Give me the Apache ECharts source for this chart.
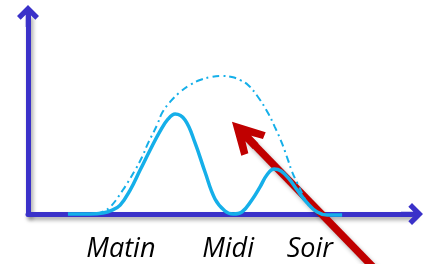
<!DOCTYPE html>
<html>
<head>
<meta charset="utf-8">
<script src="https://cdn.jsdelivr.net/npm/echarts@6/dist/echarts.min.js"></script>
<style>
  html, body { margin: 0; padding: 0; background: #fff; }
  #chart { width: 425px; height: 264px; }
</style>
</head>
<body>
<div id="chart"></div>
<script>
// time of day labels on the x axis (position on a 0..100 scale)
const labelNames = ['Matin', 'Midi', 'Soir'];
const labelPos = [24.2, 52.1, 73.4];

// solid curve: real activity, two humps
const realX = [10.4, 16.1, 19.5, 21.9, 24.0, 26.6, 29.2, 31.8, 34.4, 36.5, 38.3, 40.9, 43.5, 46.1, 48.7, 51.3, 53.4, 55.7, 58.3, 60.4, 62.2, 64.1, 65.9, 68.0, 70.1, 72.7, 75.3, 77.9, 81.8];
const realY = [0, 0, 0.5, 2.0, 4.5, 12.1, 22.2, 32.3, 41.9, 48.0, 50.5, 47.5, 35.9, 21.2, 7.6, 1.5, 0, 1.0, 7.1, 13.6, 19.7, 22.7, 21.7, 17.7, 12.1, 5.6, 1.0, -0.5, -0.5];

// dash-dot curve: expected / ideal, one wide hump
const idealX = [13.5, 17.4, 19.3, 21.4, 24.7, 27.9, 29.7, 31.3, 33.6, 34.9, 37.0, 39.6, 42.2, 44.8, 47.7, 50.5, 53.1, 55.2, 57.3, 59.9, 62.5, 64.3, 66.1, 67.7, 68.8, 70.1, 71.6, 72.7, 75.3, 77.9, 81.3];
const idealY = [0, 0, 1.0, 3.5, 12.1, 22.2, 28.8, 35.9, 44.9, 51.0, 56.6, 61.6, 65.2, 67.7, 69.2, 69.7, 69.2, 67.7, 65.2, 59.1, 51.0, 43.9, 35.9, 27.3, 21.2, 15.7, 9.6, 5.6, 1.0, -0.5, -0.5];

// red annotation arrow (tail -> head)
const arrowFrom = [91.1, -29.3];
const arrowTo = [56.2, 40.4];

const zip = (xs, ys) => xs.map((x, i) => [x, ys[i]]);

// chevron with a short stem, pointing up
const axisArrow = 'path://M12 0 L24 12 L20 16 L14.5 10.5 L14.5 24 L9.5 24 L9.5 10.5 L4 16 L0 12 Z';
const redArrow = 'path://M15 0 L30 30 L24 33 L18.5 22.7 L18.5 33 L11.5 33 L11.5 22.7 L6 33 L0 30 Z';

const blue = '#3A31C9';
const cyan = '#15AFE9';

const axisLine = {
  show: true,
  symbol: ['none', axisArrow],
  symbolSize: [23, 22],
  lineStyle: {
    color: blue,
    width: 5,
    shadowColor: 'rgba(0,0,0,0.35)',
    shadowBlur: 4,
    shadowOffsetX: 2,
    shadowOffsetY: 3
  }
};

const chart = echarts.init(document.getElementById('chart'));

chart.setOption({
  animation: false,
  grid: { left: 28, right: 13, top: 16, bottom: 50 },
  xAxis: {
    type: 'value',
    min: 0,
    max: 100,
    axisLine,
    axisTick: { show: false },
    splitLine: { show: false },
    axisLabel: {
      customValues: labelPos,
      formatter: (v) => labelNames[labelPos.indexOf(v)] || '',
      margin: 22,
      fontFamily: 'Open Sans',
      fontStyle: 'italic',
      fontSize: 27,
      color: '#000'
    }
  },
  yAxis: {
    type: 'value',
    min: 0,
    max: 100,
    axisLine,
    axisTick: { show: false },
    splitLine: { show: false },
    axisLabel: { show: false }
  },
  series: [
    {
      type: 'lines',
      coordinateSystem: 'cartesian2d',
      clip: false,
      z: 2,
      symbol: ['none', redArrow],
      symbolSize: [0, 34],
      lineStyle: {
        color: '#C00000',
        width: 7.5,
        opacity: 1,
        curveness: 0,
        shadowColor: 'rgba(0,0,0,0.3)',
        shadowBlur: 4,
        shadowOffsetX: 2,
        shadowOffsetY: 3
      },
      data: [{ coords: [arrowFrom, arrowTo] }]
    },
    {
      type: 'line',
      name: 'ideal',
      z: 3,
      clip: false,
      smooth: 0.4,
      showSymbol: false,
      lineStyle: { color: cyan, width: 2, type: [7, 4, 2, 4] },
      data: zip(idealX, idealY)
    },
    {
      type: 'line',
      name: 'real',
      z: 4,
      clip: false,
      smooth: 0.4,
      showSymbol: false,
      lineStyle: { color: cyan, width: 3.5 },
      data: zip(realX, realY)
    }
  ]
});
</script>
</body>
</html>
